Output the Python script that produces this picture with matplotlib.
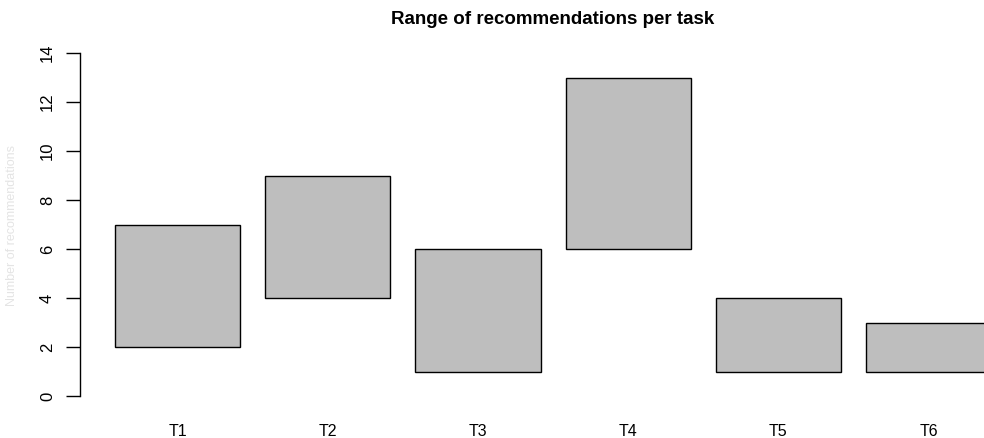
import matplotlib.pyplot as plt

plt.rcParams['font.family'] = ['Liberation Sans', 'DejaVu Sans']

tasks = ['T1', 'T2', 'T3', 'T4', 'T5', 'T6']
low = [2, 4, 1, 6, 1, 1]
high = [7, 9, 6, 13, 4, 3]
yticks = [0, 2, 4, 6, 8, 10, 12, 14]

fig = plt.figure(figsize=(9.84, 4.38), dpi=100)
ax = fig.add_axes([80 / 984, 0.0646, 1 - 80 / 984, 0.910 - 0.0646])

# R barplot layout: width 1, space 0.2
lefts = [0.2 + 1.2 * i for i in range(len(tasks))]
centers = [l + 0.5 for l in lefts]
heights = [h - l for h, l in zip(high, low)]
ax.bar(centers, heights, bottom=low, width=1.0, color='#bebebe',
       edgecolor='black', linewidth=1.0)

ax.set_xlim(-0.08, (984 - 91) / 125)
ax.set_ylim(-0.56, 14.56)

for s in ['top', 'right', 'bottom']:
    ax.spines[s].set_visible(False)
ax.spines['left'].set_bounds(0, 14)
ax.spines['left'].set_linewidth(1.0)

ax.set_yticks(yticks)
ax.set_yticklabels([str(v) for v in yticks], rotation=90, va='center',
                   fontsize=12)
ax.tick_params(axis='y', length=10, width=1.0, pad=8)
ax.set_xticks(centers)
ax.set_xticklabels(tasks, fontsize=11.5)
ax.tick_params(axis='x', length=0, pad=10)

# title centred over the full R plot region, which runs past the right edge
fig.text(553 / 984, 1 - 24 / 438, 'Range of recommendations per task',
         ha='center', va='baseline', fontsize=13.5, fontweight='bold')
fig.text(12 / 984, 1 - 225 / 438, 'Number of recommendations', rotation=90,
         ha='center', va='center', fontsize=9, color='#e4e4e4')

fig.savefig('out.png', dpi=100)
